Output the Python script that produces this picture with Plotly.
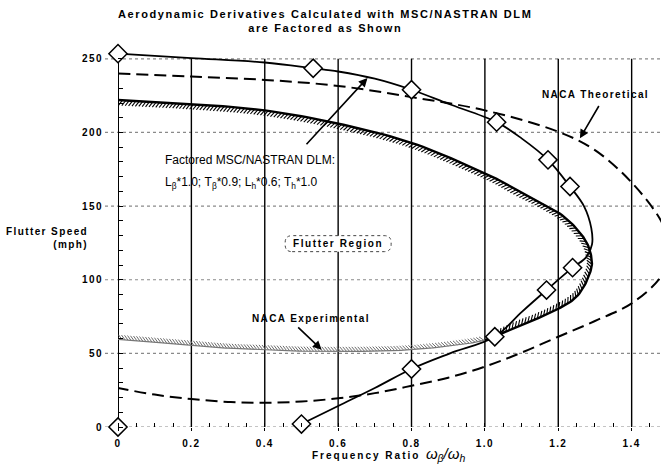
import numpy as np
import plotly.graph_objects as go

# ---------------- data ----------------
# Factored MSC/NASTRAN DLM flutter boundary (solid curve)
dlm_ratio = [0.0, 0.2, 0.4, 0.532, 0.6, 0.7, 0.8, 0.9, 1.032, 1.1, 1.172, 1.232, 1.27, 1.29,
             1.292, 1.275, 1.239, 1.168, 1.1, 1.027, 0.905, 0.8, 0.7, 0.6, 0.5]
dlm_speed = [253.5, 250.5, 247.5, 243.6, 241.4, 236.5, 229.0, 219.5, 207.0, 196.0, 181.4, 163.3, 150.0, 135.0,
             124.0, 115.0, 108.2, 93.0, 78.0, 61.3, 50.0, 39.4, 26.5, 14.3, 2.0]
# computed DLM points (diamonds)
pts_ratio = [0.0, 0.532, 0.8, 1.032, 1.172, 1.232, 1.239, 1.168, 1.027, 0.8, 0.5, 0.0]
pts_speed = [253.5, 243.6, 229.0, 207.0, 181.4, 163.3, 108.2, 93.0, 61.3, 39.4, 2.0, 0.0]

# NACA theoretical boundary (dashed)
theo_ratio = [0.0, 0.2, 0.4, 0.6, 0.8, 1.0, 1.2, 1.3, 1.4, 1.48, 1.51, 1.48, 1.4, 1.3, 1.2, 1.1,
              1.0, 0.9, 0.8, 0.7, 0.6, 0.5, 0.4, 0.3, 0.2, 0.1, 0.0]
theo_speed = [240.0, 238.0, 235.7, 231.6, 224.0, 215.0, 200.5, 188.0, 166.0, 140.0, 120.0, 102.0, 84.0, 72.0, 61.3, 50.5,
              41.0, 33.5, 28.0, 23.0, 19.5, 17.3, 16.5, 17.0, 19.0, 22.0, 26.5]

# NACA experimental boundary (hatched)
exp_ratio = [0.0, 0.2, 0.4, 0.6, 0.8, 1.0, 1.086, 1.204, 1.268, 1.29, 1.286, 1.25, 1.177, 1.086,
             1.0, 0.9, 0.8, 0.7, 0.6, 0.5, 0.4, 0.3, 0.2, 0.1, 0.0]
exp_speed = [222.0, 219.3, 215.0, 206.0, 193.0, 172.3, 161.0, 145.0, 129.0, 115.7, 104.4, 88.5, 77.4, 68.0,
             59.0, 55.0, 52.5, 51.5, 51.3, 51.5, 52.5, 53.5, 55.5, 57.5, 59.5]

x_ticks = [0, 0.2, 0.4, 0.6, 0.8, 1.0, 1.2, 1.4]
x_tick_text = ["0", "0.2", "0.4", "0.6", "0.8", "1.0", "1.2", "1.4"]
y_ticks = [0, 50, 100, 150, 200, 250]
y_tick_text = ["0", "50", "100", "150", "200", "250"]

# ---------------- geometry ----------------
W, H = 661, 464
ML, MR, MT, MB = 118, 0, 50, 37
PW = W - ML - MR
X_RANGE = [0, 1.48]
Y_RANGE = [0, 256]
SX = PW / (X_RANGE[1] - X_RANGE[0])              # px per unit ratio
SY = (H - MT - MB) / (Y_RANGE[1] - Y_RANGE[0])   # px per mph

LBL = dict(family="Liberation Sans", size=10, color="black", weight="bold")


def spaced(s, ls=1.4):
    """Letter-spaced label text."""
    return f'<span style="letter-spacing:{ls}px">{s}</span>'


def catmull_rom(xs, ys, n=14):
    """Smooth curve through points, computed in screen-pixel space."""
    P = np.column_stack([np.asarray(xs) * SX, np.asarray(ys) * SY])
    P = np.vstack([2 * P[0] - P[1], P, 2 * P[-1] - P[-2]])
    out = []
    t = np.linspace(0, 1, n, endpoint=False)[:, None]
    for i in range(1, len(P) - 2):
        p0, p1, p2, p3 = P[i - 1], P[i], P[i + 1], P[i + 2]
        seg = 0.5 * (2 * p1 + (-p0 + p2) * t + (2 * p0 - 5 * p1 + 4 * p2 - p3) * t ** 2
                     + (-p0 + 3 * p1 - 3 * p2 + p3) * t ** 3)
        out.append(seg)
    out.append(P[-2][None, :])
    return np.vstack(out)


def hatch_strokes(pix, spacing, length, angle_deg, lean):
    """Short slanted strokes on the right-hand side of the traversal direction."""
    seg = np.hypot(np.diff(pix[:, 0]), np.diff(pix[:, 1]))
    s = np.concatenate([[0], np.cumsum(seg)])
    ss = np.arange(1.0, s[-1], spacing)
    px = np.interp(ss, s, pix[:, 0])
    py = np.interp(ss, s, pix[:, 1])
    tx = np.interp(ss, s, np.gradient(pix[:, 0]))
    ty = np.interp(ss, s, np.gradient(pix[:, 1]))
    nrm = np.hypot(tx, ty)
    tx, ty = tx / nrm, ty / nrm
    nx, ny = ty, -tx
    a = np.radians(angle_deg)
    dx = (nx * np.cos(a) + lean * tx * np.sin(a)) * length
    dy = (ny * np.cos(a) + lean * ty * np.sin(a)) * length
    xs, ys = [], []
    for i in range(len(ss)):
        xs += [px[i] / SX, (px[i] + dx[i]) / SX, None]
        ys += [py[i] / SY, (py[i] + dy[i]) / SY, None]
    return xs, ys


N = 14
exp_pix = catmull_rom(exp_ratio, exp_speed, N)
split = 14 * N  # dense index of the point (1.0, 59)
upper_pix = exp_pix[:split + 1]
lower_pix = exp_pix[split:]

fig = go.Figure()

# hatch marks inside the NACA experimental boundary
hx, hy = hatch_strokes(upper_pix, 3.4, 6.5, 35, -1)
fig.add_trace(go.Scatter(x=hx, y=hy, mode="lines", line=dict(color="black", width=1.1),
                         hoverinfo="skip", showlegend=False))
hx, hy = hatch_strokes(lower_pix, 3.0, 6.0, 40, 1)
fig.add_trace(go.Scatter(x=hx, y=hy, mode="lines", line=dict(color="#6a6a6a", width=1.0),
                         hoverinfo="skip", showlegend=False))

# NACA experimental boundary line
fig.add_trace(go.Scatter(x=upper_pix[:, 0] / SX, y=upper_pix[:, 1] / SY, mode="lines",
                         line=dict(color="black", width=2.4), hoverinfo="skip", showlegend=False))
fig.add_trace(go.Scatter(x=lower_pix[:, 0] / SX, y=lower_pix[:, 1] / SY, mode="lines",
                         line=dict(color="#777", width=1.2), hoverinfo="skip", showlegend=False))

# NACA theoretical (dashed)
fig.add_trace(go.Scatter(x=theo_ratio, y=theo_speed, mode="lines", line_shape="spline",
                         line=dict(color="black", width=2, dash="12px,6px"),
                         hoverinfo="skip", showlegend=False))

# factored DLM curve and points
fig.add_trace(go.Scatter(x=dlm_ratio, y=dlm_speed, mode="lines", line_shape="spline",
                         line=dict(color="black", width=1.8), hoverinfo="skip", showlegend=False))
fig.add_trace(go.Scatter(x=pts_ratio, y=pts_speed, mode="markers", cliponaxis=False,
                         marker=dict(symbol="diamond", size=14, color="white",
                                     line=dict(color="black", width=1.5)),
                         hoverinfo="skip", showlegend=False))

shapes = []
# horizontal dotted grid lines, running out past the axis as tick marks
for v in y_ticks:
    shapes.append(dict(type="line", xref="paper", yref="y", x0=-13 / PW, x1=1, y0=v, y1=v,
                       line=dict(color="#8a8a8a", width=1.2, dash="dot"), layer="below"))
# vertical solid grid lines
for v in x_ticks[1:]:
    shapes.append(dict(type="line", xref="x", yref="y", x0=v, x1=v, y0=0, y1=250,
                       line=dict(color="black", width=1.4), layer="below"))
# y axis line
shapes.append(dict(type="line", xref="x", yref="y", x0=0, x1=0, y0=0, y1=254,
                   line=dict(color="black", width=2), layer="below"))

# rounded box around "Flutter Region"
cx, cy = 0.6, 124.5
hw, hh, r = 53 / SX, 8 / SY, 7
rx, ry = r / SX, r / SY
x0, x1, y0, y1 = cx - hw, cx + hw, cy - hh, cy + hh
path = (f"M{x0 + rx},{y0} L{x1 - rx},{y0} Q{x1},{y0} {x1},{y0 + ry} L{x1},{y1 - ry} "
        f"Q{x1},{y1} {x1 - rx},{y1} L{x0 + rx},{y1} Q{x0},{y1} {x0},{y1 - ry} "
        f"L{x0},{y0 + ry} Q{x0},{y0} {x0 + rx},{y0} Z")
shapes.append(dict(type="path", xref="x", yref="y", path=path, fillcolor="white",
                   line=dict(color="#444", width=1, dash="dot"), layer="above"))

REG = dict(family="Liberation Sans", size=12, color="black")
annotations = [
    # chart heading
    dict(x=(325 - ML) / PW, y=1, xref="paper", yref="paper", yanchor="middle", yshift=29,
         showarrow=False,
         text=spaced("Aerodynamic Derivatives Calculated with MSC/NASTRAN DLM", 1.6) + "<br>"
              + spaced("are Factored as Shown", 1.6),
         font=dict(family="Liberation Sans", size=11, color="black", weight="bold")),
    dict(x=cx, y=cy, xref="x", yref="y", text=spaced("Flutter Region", 1.6), showarrow=False, font=LBL),
    # factored DLM label
    dict(x=0.1226, y=181.4, xref="x", yref="y", xanchor="left", showarrow=False,
         text="Factored MSC/NASTRAN DLM:", font=REG),
    dict(x=0.1226, y=166.0, xref="x", yref="y", xanchor="left", showarrow=False,
         text="L<sub>β</sub>*1.0; T<sub>β</sub>*0.9; L<sub>h</sub>*0.6; T<sub>h</sub>*1.0", font=REG),
    dict(x=0.68, y=237, ax=0.51, ay=191, xref="x", yref="y", axref="x", ayref="y",
         text="", showarrow=True, arrowhead=2, arrowsize=1.1, arrowwidth=1.6, arrowcolor="black"),
    # NACA theoretical label
    dict(x=1.302, y=226, xref="x", yref="y", text=spaced("NACA Theoretical", 1.4), showarrow=False, font=LBL),
    dict(x=1.259, y=196, ax=1.313, ay=219, xref="x", yref="y", axref="x", ayref="y",
         text="", showarrow=True, arrowhead=2, arrowsize=1.1, arrowwidth=1.6, arrowcolor="black"),
    # NACA experimental label
    dict(x=0.525, y=74, xref="x", yref="y", text=spaced("NACA Experimental", 1.4), showarrow=False, font=LBL),
    dict(x=0.555, y=52.5, ax=0.487, ay=68.6, xref="x", yref="y", axref="x", ayref="y",
         text="", showarrow=True, arrowhead=2, arrowsize=1.1, arrowwidth=1.6, arrowcolor="black"),
    # axis titles
    dict(x=-28 / PW, y=128.5, xref="paper", yref="y", xanchor="right", align="right", showarrow=False,
         text=spaced("Flutter Speed", 1.4) + "<br>" + spaced("(mph)", 1.4), font=LBL),
    dict(x=(388 - ML) / PW, y=0, xref="paper", yref="paper", yanchor="middle", yshift=-27, showarrow=False,
         text=spaced("Frequency Ratio", 2.0) + "  "
              + '<span style="font-weight:normal;font-size:15px"><i>ω<sub>β</sub>/ω<sub>h</sub></i></span>',
         font=LBL),
]

fig.update_layout(
    width=W, height=H,
    margin=dict(l=ML, r=MR, t=MT, b=MB, pad=0),
    paper_bgcolor="white", plot_bgcolor="white",
    xaxis=dict(range=X_RANGE, showgrid=False, zeroline=False, showline=False,
               tickvals=x_ticks, ticktext=[spaced(t, 1.4) for t in x_tick_text],
               ticks="outside", ticklen=3, ticklabelstandoff=4,
               tickcolor="black", tickwidth=1.4, tickfont=LBL,
               minor=dict(dtick=0.05, tick0=0, ticks="inside", ticklen=4, tickcolor="black", tickwidth=1.2)),
    yaxis=dict(range=Y_RANGE, showgrid=False, zeroline=False, showline=False,
               tickvals=y_ticks, ticktext=[spaced(t, 1.4) for t in y_tick_text],
               ticks="outside", ticklen=12, tickcolor="rgba(0,0,0,0)", tickfont=LBL,
               minor=dict(dtick=10, tick0=0, ticks="inside", ticklen=5, tickcolor="black", tickwidth=1.4)),
    shapes=shapes,
    annotations=annotations,
)

fig.write_html("out.html")
